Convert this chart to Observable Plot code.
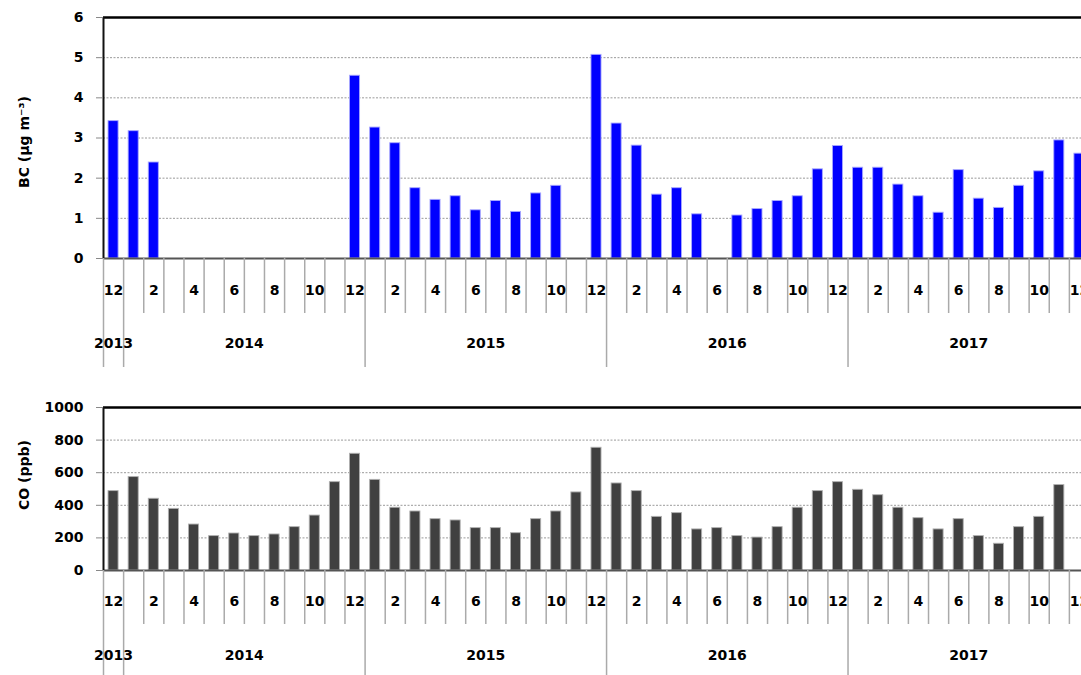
<!DOCTYPE html>
<html><head><meta charset="utf-8">
<script src="https://cdn.jsdelivr.net/npm/d3@7"></script>
<script src="https://cdn.jsdelivr.net/npm/@observablehq/plot@0.6"></script>
<style>
html,body{margin:0;padding:0;background:#fff;overflow:hidden;}
#chart svg{display:block;max-width:none;}
</style></head><body><div id="chart"></div>
<script>
// Categories: monthly periods, Dec 2013 – Dec 2017
const periods = [
  "2013-12",
  "2014-01","2014-02","2014-03","2014-04","2014-05","2014-06","2014-07","2014-08","2014-09","2014-10","2014-11","2014-12",
  "2015-01","2015-02","2015-03","2015-04","2015-05","2015-06","2015-07","2015-08","2015-09","2015-10","2015-11","2015-12",
  "2016-01","2016-02","2016-03","2016-04","2016-05","2016-06","2016-07","2016-08","2016-09","2016-10","2016-11","2016-12",
  "2017-01","2017-02","2017-03","2017-04","2017-05","2017-06","2017-07","2017-08","2017-09","2017-10","2017-11","2017-12"
];
// BC (µg m-3); null = no data
const bc = [
  3.42,
  3.17, 2.39, null, null, null, null, null, null, null, null, null, 4.55,
  3.26, 2.87, 1.75, 1.46, 1.55, 1.20, 1.43, 1.16, 1.62, 1.81, null, 5.07,
  3.36, 2.81, 1.59, 1.75, 1.10, null, 1.07, 1.23, 1.43, 1.55, 2.22, 2.80,
  2.26, 2.26, 1.84, 1.55, 1.14, 2.20, 1.49, 1.26, 1.81, 2.17, 2.94, 2.61
];
// CO (ppb); null = no data
const co = [
  487,
  573, 440, 378, 282, 211, 227, 211, 221, 266, 337, 542, 716,
  556, 385, 362, 315, 307, 260, 260, 229, 315, 362, 479, 753,
  534, 487, 329, 352, 252, 260, 211, 202, 266, 385, 487, 542,
  495, 462, 385, 321, 252, 315, 211, 164, 266, 329, 524, null
];
const bcTicks = [0, 1, 2, 3, 4, 5, 6];
const coTicks = [0, 200, 400, 600, 800, 1000];

const n = periods.length;
const rows = periods.map((p, i) => ({i, year: p.slice(0, 4), month: +p.slice(5), bc: bc[i], co: co[i]}));
// year groups derived from the categories
const yearGroups = d3.groups(rows, d => d.year).map(([year, rs]) => ({
  year, start: d3.min(rs, d => d.i), end: d3.max(rs, d => d.i) + 1
}));
const yearBounds = yearGroups.map(g => g.start);
const monthBounds = d3.range(n + 1).filter(b => !yearBounds.includes(b));
const labelCenters = rows.filter(d => d.month % 2 === 0).map(d => d.i + 0.5);
const yearCenters = yearGroups.map(g => (g.start + g.end) / 2);

const FONT = "DejaVu Sans";

function panel({key, ticks, label, fill, stroke, height, marginTop, marginBottom, monthTick, yearTick, monthPad, yearPad, labelDy}) {
  const data = rows.filter(d => d[key] != null);
  const max = d3.max(ticks);
  return Plot.plot({
    width: 1081, height, marginLeft: 103, marginRight: 0, marginTop, marginBottom,
    style: {fontFamily: FONT, fontSize: "14px", fontWeight: "bold", color: "#000", background: "#fff", overflow: "visible"},
    x: {domain: [0, n], range: [103, 1089], axis: null, label: null},
    y: {domain: [0, max], axis: null, label: null},
    marks: [
      Plot.ruleY(ticks.filter(t => t > 0 && t < max), {stroke: "#9a9a9a", strokeDasharray: "2 1.5", strokeWidth: 1}),
      Plot.rect(data, {x1: d => d.i + 0.25, x2: d => d.i + 0.75, y1: () => 0, y2: key, fill, stroke, strokeWidth: 0.9}),
      Plot.ruleY([max], {stroke: "#000", strokeWidth: 2.5}),
      Plot.ruleY([0], {stroke: "#555", strokeWidth: 2}),
      Plot.ruleX([0], {stroke: "#111", strokeWidth: 2}),
      Plot.axisY(ticks, {anchor: "left", tickSize: 7, tickPadding: 13, tickFormat: d => String(d), stroke: "#888", fill: "#000", fontWeight: "bold", fontSize: 14}),
      Plot.axisX(monthBounds, {anchor: "bottom", tickSize: monthTick, tickFormat: () => "", stroke: "#aaa", strokeWidth: 1.5}),
      Plot.axisX(yearBounds, {anchor: "bottom", tickSize: yearTick, tickFormat: () => "", stroke: "#aaa", strokeWidth: 1.5}),
      Plot.axisX(labelCenters, {anchor: "bottom", tickSize: 0, tickPadding: monthPad, tickFormat: v => rows[Math.floor(v)].month, fill: "#000", fontWeight: "bold", fontSize: 14}),
      Plot.axisX(yearCenters, {anchor: "bottom", tickSize: 0, tickPadding: yearPad, tickFormat: v => yearGroups[yearCenters.indexOf(v)].year, fill: "#000", fontWeight: "bold", fontSize: 14}),
      Plot.text([label], {text: d => d, frameAnchor: "left", textAnchor: "middle", rotate: -90, dx: -79, dy: labelDy, fill: "#000", fontWeight: "bold", fontSize: 14})
    ]
  });
}

const el = document.getElementById("chart");
el.append(panel({key: "bc", ticks: bcTicks, label: "BC (μg m⁻³)", fill: "#0000ff", stroke: "#a8a8ff",
  height: 390, marginTop: 17, marginBottom: 132, monthTick: 55, yearTick: 109, monthPad: 27, yearPad: 80, labelDy: 4}));
el.append(panel({key: "co", ticks: coTicks, label: "CO (ppb)", fill: "#404040", stroke: "#b0b0b0",
  height: 285, marginTop: 17, marginBottom: 105, monthTick: 54, yearTick: 105, monthPad: 26, yearPad: 80, labelDy: -14}));
</script></body></html>
